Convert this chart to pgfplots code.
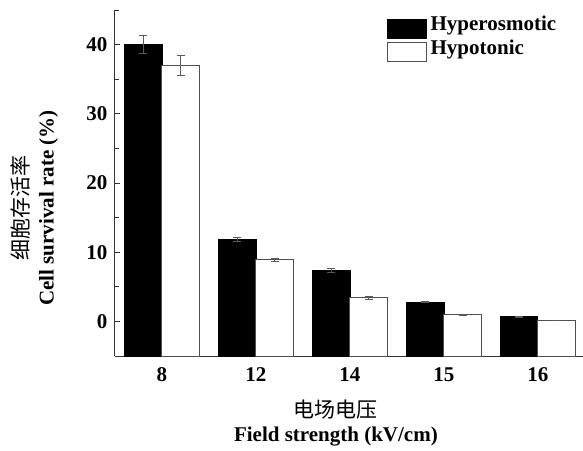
\documentclass[border=0pt]{standalone}
\usepackage{fontspec}
\setmainfont{Liberation Serif}
\newfontfamily\cjk{Noto Sans CJK SC}
\usepackage{pgfplots}
\pgfplotsset{compat=1.18}
\definecolor{edgegray}{RGB}{80,80,80}
\definecolor{errgray}{RGB}{90,90,90}
\begin{document}
\begin{tikzpicture}
\path[use as bounding box] (-115pt,-94pt) rectangle (468pt,356pt);
\begin{axis}[
  at={(0pt,0pt)}, anchor=south west,
  scale only axis, width=468pt, height=346pt,
  axis x line*=bottom, axis y line*=left,
  axis line style={line width=1pt, black!80},
  y coord trafo/.code={\pgfmathparse{#1+5}},
  y coord inv trafo/.code={\pgfmathparse{#1-5}},
  ymin=-5, ymax=45,
  xmin=-0.5, xmax=4.48,
  ytick={0,10,20,30,40}, yticklabels={0,10,20,30,40},
  minor ytick={5,15,25,35,45},
  xtick={0,1,2,3,4}, xticklabels={8,12,14,15,16},
  tick align=inside,
  major tick length=5pt, minor tick length=4pt,
  major x tick style={draw=none},
  y tick style={line width=1pt, black!80},
  /pgf/number format/assume math mode=true,
  ticklabel style={font=\fontsize{21}{25}\selectfont\bfseries},
  yticklabel style={xshift=-4pt},
  xticklabel style={yshift=-3pt},
  ybar, bar width=0.4,
  xlabel={{\cjk\mdseries 电场电压}\\Field strength (kV/cm)},
  xlabel style={font=\fontsize{21}{24}\selectfont\bfseries, align=center, at={(axis description cs:0.472,0)}, anchor=north, yshift=-40pt},
  ylabel={{\cjk\mdseries 细胞存活率}\\Cell survival rate (\%)},
  ylabel style={font=\fontsize{21}{25}\selectfont\bfseries, align=center, at={(axis description cs:-0.172,0.428)}, anchor=center, rotate=0},
  legend style={at={(axis description cs:0.581,0.976)}, anchor=north west, draw=none, fill=none,
    font=\fontsize{21}{24}\selectfont\bfseries, row sep=4pt, inner sep=0pt,
    nodes={inner xsep=3.5pt, inner ysep=1pt, text height=0.7em, text depth=0.2em}},
  legend cell align=left,
  legend image code/.code={\draw[#1] (0pt,-9.5pt) rectangle (39pt,9.5pt);},
]
\addplot[fill=black, draw=black, line width=0.8pt, bar shift=-0.2,
  error bars/.cd, y dir=both, y explicit,
  error bar style={line width=0.8pt, errgray}, error mark options={rotate=90, mark size=4pt, line width=0.8pt, errgray}]
  coordinates {(0,40) +- (0,1.3) (1,11.9) +- (0,0.3) (2,7.35) +- (0,0.25) (3,2.8) +- (0,0.08) (4,0.67) +- (0,0.05)};
\addlegendentry{Hyperosmotic}
\addplot[fill=white, draw=edgegray, line width=1pt, bar shift=0.2,
  error bars/.cd, y dir=both, y explicit,
  error bar style={line width=0.8pt, errgray}, error mark options={rotate=90, mark size=4pt, line width=0.8pt, errgray}]
  coordinates {(0,37) +- (0,1.5) (1,8.9) +- (0,0.25) (2,3.4) +- (0,0.15) (3,0.95) +- (0,0.05) (4,0.14) +- (0,0.03)};
\addlegendentry{Hypotonic}
\end{axis}
\end{tikzpicture}
\end{document}
